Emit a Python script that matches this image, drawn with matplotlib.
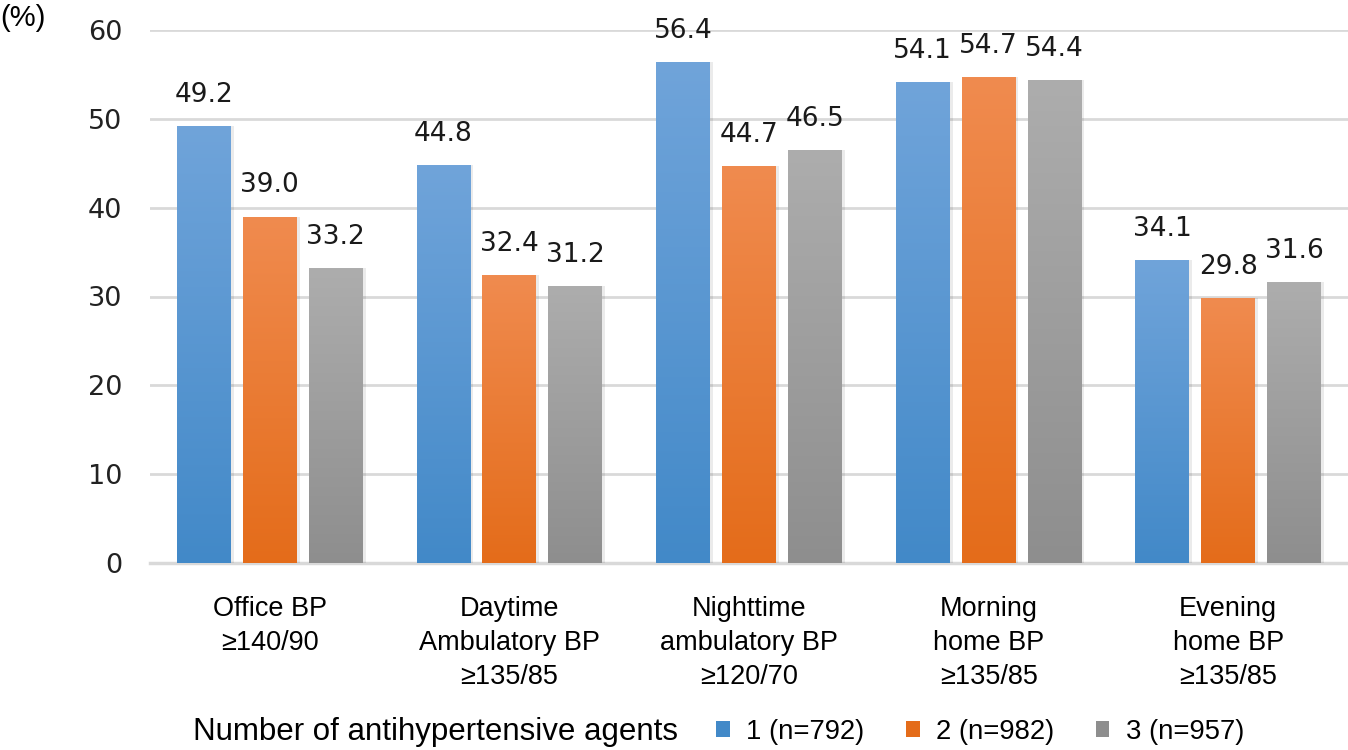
import numpy as np
import matplotlib
matplotlib.use("Agg")
import matplotlib.pyplot as plt
from matplotlib.colors import LinearSegmentedColormap
from matplotlib.patches import Patch

categories = [
    "Office BP\n≥140/90",
    "Daytime\nAmbulatory BP\n≥135/85",
    "Nighttime\nambulatory BP\n≥120/70",
    "Morning\nhome BP\n≥135/85",
    "Evening\nhome BP\n≥135/85",
]
series_names = ["1 (n=792)", "2 (n=982)", "3 (n=957)"]
agents_1 = [49.2, 44.8, 56.4, 54.1, 34.1]
agents_2 = [39.0, 32.4, 44.7, 54.7, 29.8]
agents_3 = [33.2, 31.2, 46.5, 54.4, 31.6]
yticks = [0, 10, 20, 30, 40, 50, 60]

# (top colour, bottom colour) for the gradient fills
gradients = [("#70a4da", "#4289c8"), ("#f08b4f", "#e46c1a"), ("#adadad", "#8e8e8e")]

fig = plt.figure(figsize=(13.48, 7.5), dpi=100)
ax = fig.add_axes([150 / 1348, 1 - 563 / 750, 1198 / 1348, 533 / 750])

x = np.arange(len(categories))
width = 0.225
pitch = 0.275
all_series = [agents_1, agents_2, agents_3]

for i, (vals, (c_top, c_bot)) in enumerate(zip(all_series, gradients)):
    pos = x + (i - 1) * pitch
    # soft shadow
    ax.bar(pos + 0.006, vals, width + 0.012, color="#000000", alpha=0.08, zorder=2)
    bars = ax.bar(pos, vals, width, color=c_top, zorder=3, linewidth=0)
    cmap = LinearSegmentedColormap.from_list(f"g{i}", [c_bot, c_top])
    grad = np.linspace(0, 1, 256).reshape(-1, 1)
    for b in bars:
        x0, y0 = b.get_x(), b.get_y()
        im = ax.imshow(grad, cmap=cmap, aspect="auto", origin="lower",
                       extent=(x0, x0 + b.get_width(), y0, y0 + b.get_height()),
                       zorder=4)
        im.set_clip_path(b)
    for p, v in zip(pos, vals):
        ax.annotate(f"{v:.1f}", (p, v), xytext=(0, 13), textcoords="offset points",
                    ha="center", va="bottom", fontsize=19, color="#1a1a1a",
                    family="DejaVu Sans")

ax.set_xlim(-0.5, len(categories) - 0.5)
ax.set_ylim(0, 60)
ax.set_yticks(yticks)
ax.set_yticklabels([str(t) for t in yticks], fontsize=19.5, color="#222222",
                   family="DejaVu Sans")
ax.set_xticks(x)
ax.set_xticklabels(categories, fontsize=19.5, family="Liberation Sans",
                   linespacing=1.38, va="top")
ax.tick_params(axis="y", length=0, pad=20)
ax.tick_params(axis="x", length=0, pad=24)
ax.yaxis.grid(True, color="#d9d9d9", linewidth=2, zorder=0)
ax.set_axisbelow(True)
for s in ["top", "right", "left"]:
    ax.spines[s].set_visible(False)
ax.spines["bottom"].set_color("#d9d9d9")
ax.spines["bottom"].set_linewidth(2.5)
ax.spines["bottom"].set_zorder(1)

fig.text(0, 1 - 18 / 750, "(%)", fontsize=21, family="Liberation Sans",
         va="center", ha="left")

fig.text(193 / 1348, 1 - 732 / 750, "Number of antihypertensive agents",
         fontsize=22.5, family="Liberation Sans", va="center", ha="left")
handles = [Patch(facecolor=c[1]) for c in gradients]
leg = fig.legend(handles, series_names, loc="center left",
                 bbox_to_anchor=(716 / 1348, 1 - 732 / 750), ncol=3,
                 frameon=False, prop={"family": "Liberation Sans", "size": 19.8},
                 handlelength=0.5, handleheight=0.5, handletextpad=0.6,
                 columnspacing=1.5, borderaxespad=0, borderpad=0)

fig.savefig("out.png", dpi=100)
